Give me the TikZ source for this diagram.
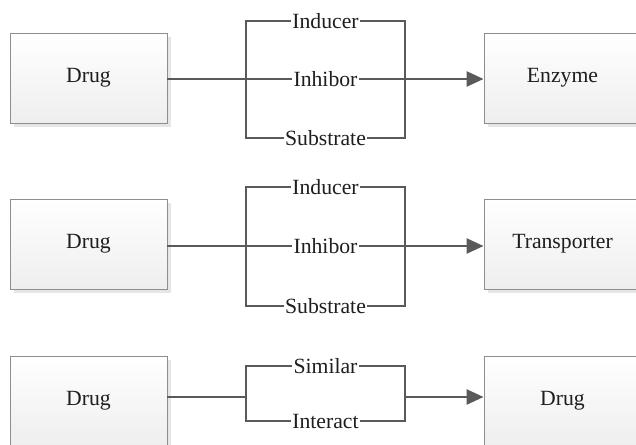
\documentclass[tikz,border=0pt]{standalone}
\usepackage{fontspec}
\setmainfont{Liberation Serif}
\usetikzlibrary{arrows.meta,shadows}
\definecolor{ln}{HTML}{5A5A5A}
\definecolor{boxborder}{HTML}{8E8E8E}
\definecolor{boxbot}{HTML}{EEEEEE}
\definecolor{shadowc}{HTML}{E6E6E6}
\definecolor{txt}{HTML}{1E1E1E}
\begin{document}
\begin{tikzpicture}[x=1pt,y=-1pt,
  box/.style={minimum width=157pt, minimum height=90pt, draw=boxborder, line width=0.9pt,
    top color=white, bottom color=boxbot, inner sep=0pt, text=txt,
    font=\fontsize{21.7}{26}\selectfont,
    drop shadow={shadow xshift=4pt, shadow yshift=-4pt, fill=shadowc, opacity=1, draw=none}},
  mainln/.style={draw=ln, line width=2.6pt},
  arr/.style={mainln, -{Triangle[length=17pt, width=15pt]}},
  brk/.style={draw=ln, line width=1.8pt, line join=miter},
  lbl/.style={fill=white, inner xsep=1.5pt, inner ysep=0pt, text=txt,
    font=\fontsize{21.7}{26}\selectfont}]
\useasboundingbox (0,0) rectangle (636,444);
\clip (0,0) rectangle (636,444);

% boxes
\node[box] (d1) at (88.5,78) {Drug};
\node[box] (e1) at (562.5,78) {Enzyme};
\node[box] (d2) at (88.5,244) {Drug};
\node[box] (t2) at (562.5,244) {Transporter};
\node[box] (d3) at (88.5,401) {Drug};
\node[box] (g3) at (562.5,401) {Drug};

% bracket coordinates
\coordinate (b1tl) at (246,21);  \coordinate (b1br) at (405,138);
\coordinate (b1l) at (246,79);   \coordinate (b1r) at (405,79);
\coordinate (b2tl) at (246,187); \coordinate (b2br) at (405,306);
\coordinate (b2l) at (246,246);  \coordinate (b2r) at (405,246);
\coordinate (b3tl) at (246,366); \coordinate (b3br) at (405,421);
\coordinate (b3l) at (246,397);  \coordinate (b3r) at (405,397);

% row 1
\draw[mainln] (d1.east |- b1l) -- (b1l);
\draw[brk] (b1tl) rectangle (b1br);
\draw[brk] (b1l) -- (b1r);
\draw[arr] (b1r) -- (e1.west |- b1r);
\node[lbl] (ind1) at (325.5,21) {Inducer};
\node[lbl] (inh1) at (325.5,79) {Inhibor};
\node[lbl] (sub1) at (325.5,138) {Substrate};

% row 2
\draw[mainln] (d2.east |- b2l) -- (b2l);
\draw[brk] (b2tl) rectangle (b2br);
\draw[brk] (b2l) -- (b2r);
\draw[arr] (b2r) -- (t2.west |- b2r);
\node[lbl] (ind2) at (325.5,187) {Inducer};
\node[lbl] (inh2) at (325.5,246) {Inhibor};
\node[lbl] (sub2) at (325.5,306) {Substrate};

% row 3
\draw[mainln] (d3.east |- b3l) -- (b3l);
\draw[brk] (b3tl) rectangle (b3br);
\draw[arr] (b3r) -- (g3.west |- b3r);
\node[lbl] (sim3) at (325.5,366) {Similar};
\node[lbl] (int3) at (325.5,421) {Interact};
\end{tikzpicture}
\end{document}
